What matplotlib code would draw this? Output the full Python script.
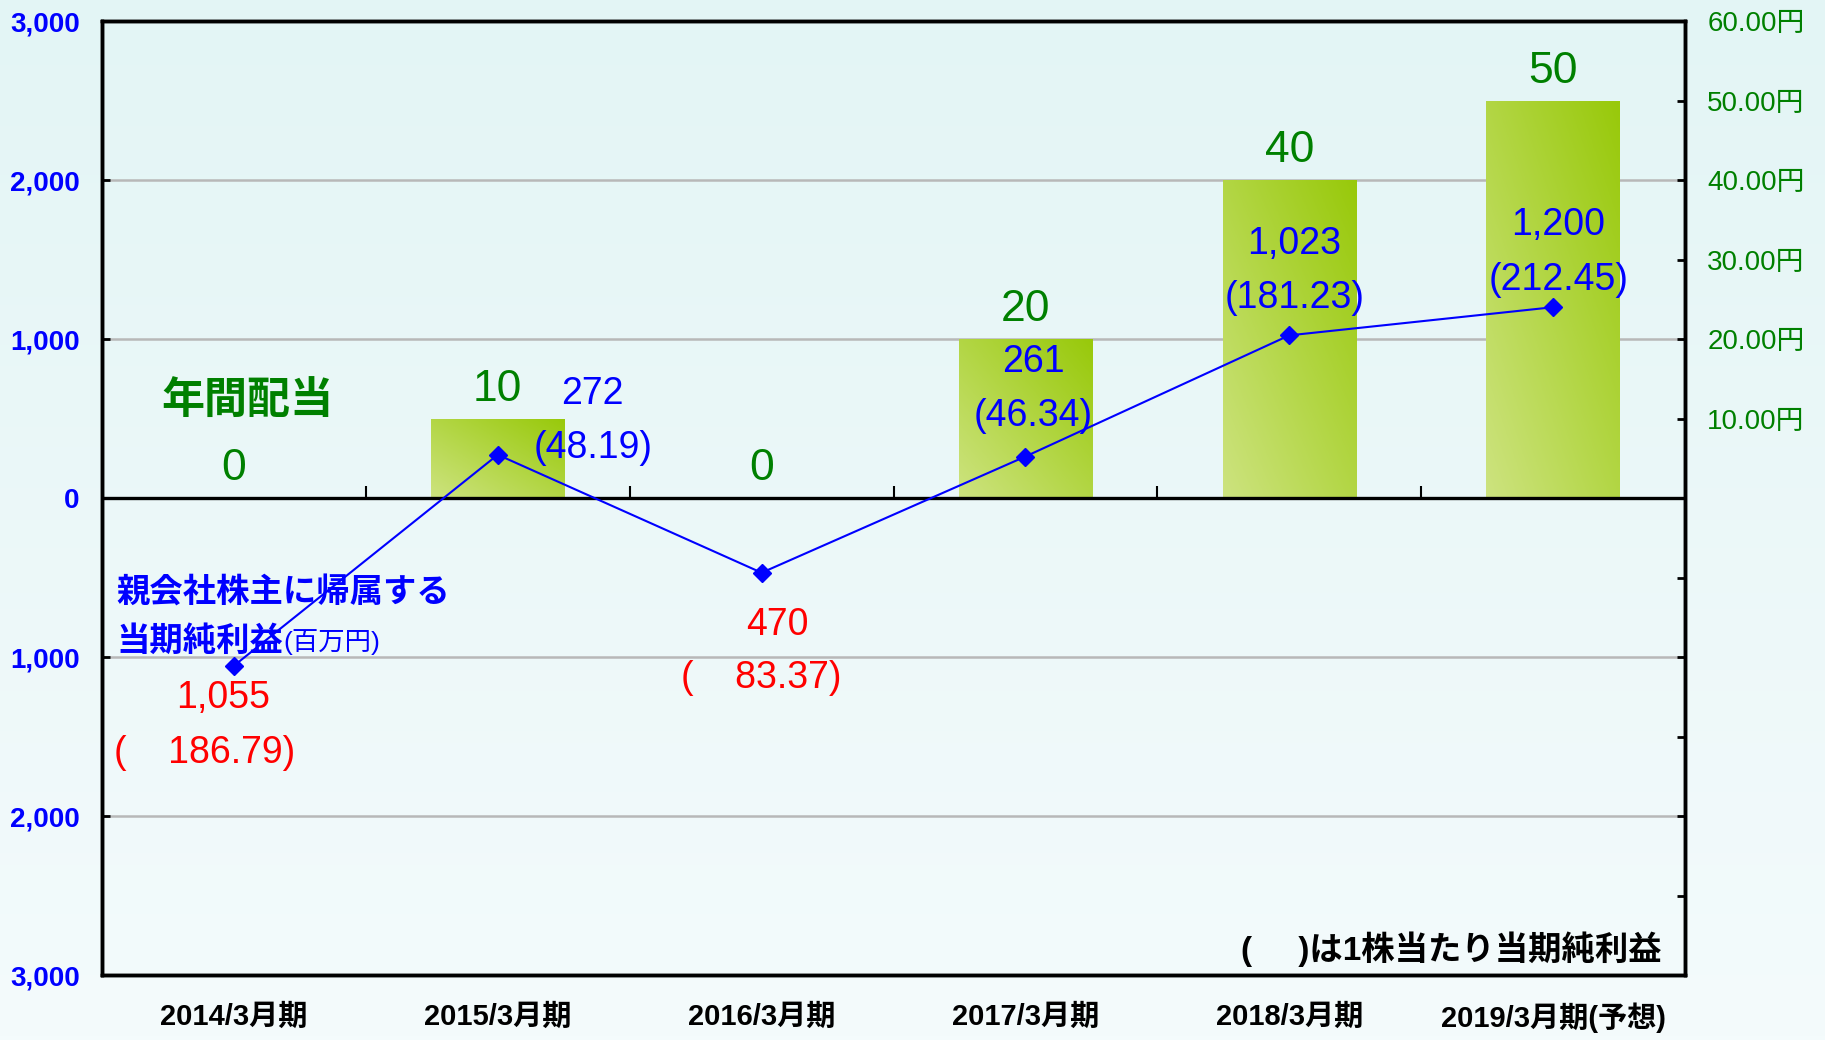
import numpy as np
import matplotlib
matplotlib.use("Agg")
import matplotlib.pyplot as plt
from matplotlib.colors import LinearSegmentedColormap

FONT = ['Liberation Sans', 'Noto Sans CJK JP', 'DejaVu Sans']
plt.rcParams['font.family'] = FONT
plt.rcParams['axes.unicode_minus'] = False

# data
periods = ["2014/3月期", "2015/3月期", "2016/3月期", "2017/3月期", "2018/3月期", "2019/3月期(予想)"]
dividend = [0, 10, 0, 20, 40, 50]                      # 年間配当 (円)
net_income = [-1055, 272, -470, 261, 1023, 1200]        # 百万円
eps = [-186.79, 48.19, -83.37, 46.34, 181.23, 212.45]   # 1株当たり当期純利益

# label placement (category offset, value offset) for net income / eps labels
ni_off = [(-0.04, -200), (0.36, 385), (0.06, -326), (0.03, 593), (0.02, 576), (0.02, 515)]
eps_off = [(-0.11, -551), (0.36, 42), (0.0, -661), (0.03, 257), (0.02, 232), (0.02, 172)]

BLUE = "#0000ff"
GREEN = "#008000"
RED = "#ff0000"

fig = plt.figure(figsize=(18.25, 10.4), dpi=100)

# background gradient
bg = fig.add_axes([0, 0, 1, 1], zorder=-10)
bg_cmap = LinearSegmentedColormap.from_list("bg", ["#f4fbfc", "#e3f5f5"])
bg.imshow(np.linspace(0, 1, 256).reshape(-1, 1), aspect="auto", cmap=bg_cmap,
          origin="lower", extent=[0, 1, 0, 1])
bg.axis("off")

rect = [0.0559, 0.0625, 0.9233 - 0.0559, 0.9798 - 0.0625]
ax = fig.add_axes(rect)
ax2 = ax.twinx()
ax3 = ax.twinx()
for a in (ax, ax2, ax3):
    a.patch.set_visible(False)

x = np.arange(len(periods))

# left axis: net income
ax.set_xlim(-0.5, len(periods) - 0.5)
ax.set_ylim(-3000, 3000)
ax.set_yticks(np.arange(-3000, 3001, 1000))
ax.set_yticklabels([f"{abs(v):,}" for v in range(-3000, 3001, 1000)])
ax.tick_params(axis="y", direction="in", length=6, width=2, colors="black",
               labelcolor=BLUE, labelsize=20, pad=16)
for lbl in ax.get_yticklabels():
    lbl.set_fontweight("bold")
ax.set_xticks(x)
ax.set_xticklabels(periods, fontsize=21, fontweight="bold")
ax.tick_params(axis="x", length=0, pad=20)
for v in (-2000, -1000, 1000, 2000):
    ax.axhline(v, color="#b8b8b8", lw=1.8, zorder=0)

# right axis: dividend bars
ax2.set_ylim(-60, 60)
ax2.set_yticks(np.arange(-60, 61, 10))
ax2.set_yticklabels([f"{v:.2f}円" if v > 0 else "" for v in range(-60, 61, 10)])
ax2.tick_params(axis="y", direction="in", length=6, width=2, colors="black",
                labelcolor=GREEN, labelsize=20, pad=16)
bars = ax2.bar(x, dividend, width=0.505, color="#b5d84a", linewidth=0)
grad = np.linspace(0, 1, 100)
gx, gy = np.meshgrid(grad, grad)
bar_cmap = LinearSegmentedColormap.from_list("bar", ["#cde37f", "#98c90a"])
for b in bars:
    if b.get_height() <= 0:
        continue
    im = ax2.imshow((gx + gy) / 2, cmap=bar_cmap, origin="lower", aspect="auto",
                    extent=[b.get_x(), b.get_x() + b.get_width(), 0, b.get_height()],
                    zorder=2)
    im.set_clip_path(b)
ax2.set_xlim(-0.5, len(periods) - 0.5)
for xi, d in zip(x, dividend):
    ax2.annotate(f"{d}", (xi, d), xytext=(0, 21), textcoords="offset points",
                 ha="center", va="center", color=GREEN, fontsize=32)

# line axis (same scale as left)
ax3.set_ylim(-3000, 3000)
ax3.set_yticks([])
ax3.set_xlim(-0.5, len(periods) - 0.5)
ax3.axhline(0, color="black", lw=2.4)
ax3.vlines(x[:-1] + 0.5, 0, 75, color="black", lw=1.5)
ax3.plot(x, net_income, color=BLUE, lw=1.5, marker="D", markersize=9)

for i, (v, e) in enumerate(zip(net_income, eps)):
    col = BLUE if v >= 0 else RED
    dx, dy = ni_off[i]
    ax3.text(i + dx, v + dy, f"{abs(v):,}", color=col, fontsize=27, ha="center", va="center")
    dx, dy = eps_off[i]
    etxt = f"({abs(e):.2f})" if e >= 0 else f"(    {abs(e):.2f})"
    ax3.text(i + dx, v + dy, etxt, color=col, fontsize=27, ha="center", va="center")

ax3.text(0.05, 600, "年間配当", color=GREEN, fontsize=31, fontweight="bold",
         ha="center", va="center")
ax3.text(-0.445, -599, "親会社株主に帰属する", color=BLUE, fontsize=24,
         fontweight="bold", ha="left", va="center")
t2 = ax3.text(-0.445, -905, "当期純利益", color=BLUE, fontsize=24,
              fontweight="bold", ha="left", va="center")
ax3.annotate("(百万円)", xy=(1, 0.1), xycoords=t2, color=BLUE, fontsize=19,
             ha="left", va="bottom")
ax3.text(0.985, 0.027, "(     )は1株当たり当期純利益", transform=ax3.transAxes,
         color="black", fontsize=24, fontweight="bold", ha="right", va="center")

for a in (ax, ax2, ax3):
    for s in a.spines.values():
        s.set_linewidth(2.4)
        s.set_color("black")

fig.savefig("out.png", dpi=100)
